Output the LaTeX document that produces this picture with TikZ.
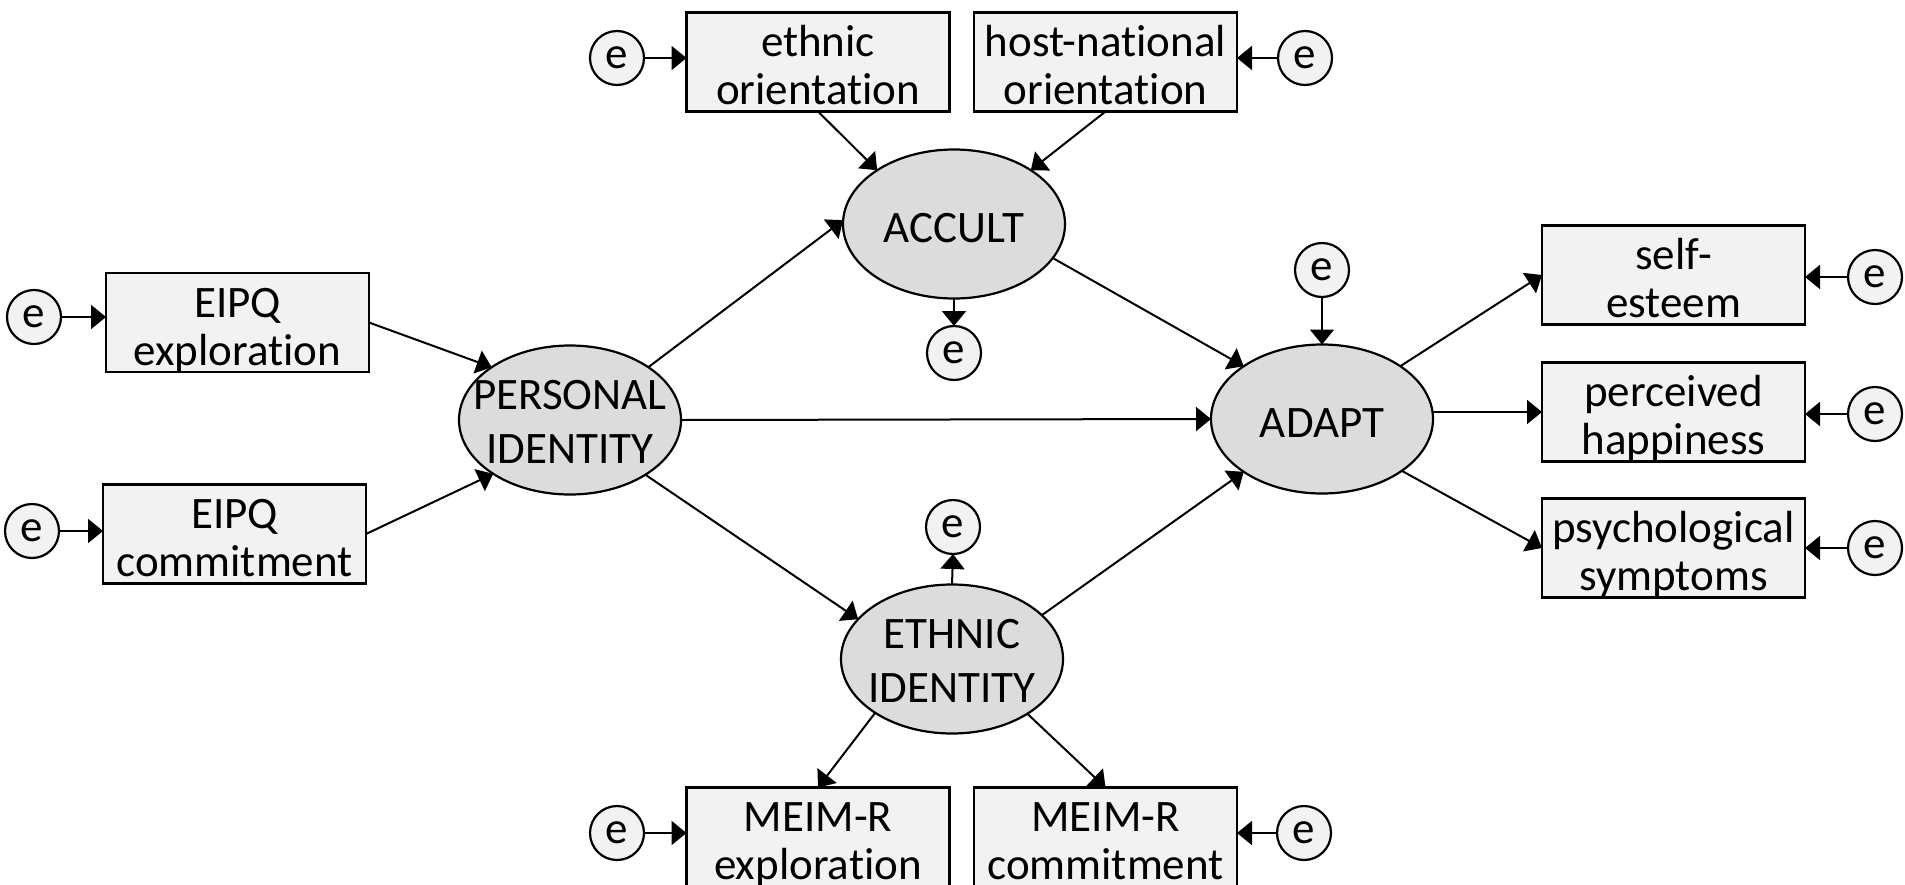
\documentclass[tikz,border=0pt]{standalone}
\usepackage{fontspec}
\setmainfont{Carlito}[Ligatures=NoCommon]
\usetikzlibrary{shapes.geometric,arrows.meta}
\definecolor{boxfill}{HTML}{F2F2F2}
\definecolor{latfill}{HTML}{DCDCDC}
\newcommand\Ln[2]{\raisebox{0pt}[#1][0pt]{#2}}
\begin{document}
\begin{tikzpicture}[x=0.5pt,y=-0.5pt,
  every node/.style={font=\fontsize{22.5pt}{24pt}\selectfont, inner sep=0pt, outer sep=0pt},
  obs/.style={draw, line width=1.1pt, fill=boxfill, minimum width=131.5pt, minimum height=49.5pt, align=center},
  lat/.style={draw, line width=1.1pt, fill=latfill, ellipse, minimum width=111pt, minimum height=74.5pt},
  lbl/.style={align=center, font=\fontsize{22.5pt}{27pt}\selectfont},
  err/.style={draw, line width=1.1pt, fill=boxfill, circle, minimum size=27pt},
  arr/.style={line width=1pt, -{Triangle[length=7.5pt,width=12pt]}}]
\useasboundingbox (0,0) rectangle (1905,884);
\fill[white] (0,0) rectangle (1905,884);

% observed boxes
\node[obs] (eipqe) at (237.5,322.5) {\Ln{18.5pt}{EIPQ}\\\Ln{0pt}{exploration}};
\node[obs] (eipqc) at (234.5,534) {\Ln{18.5pt}{EIPQ}\\\Ln{0pt}{commitment}};
\node[obs] (ethor) at (818,62) {\Ln{18.5pt}{ethnic}\\\Ln{0pt}{orientation}};
\node[obs] (hostor) at (1105.5,62) {\Ln{18.5pt}{host-national}\\\Ln{0pt}{orientation}};
\node[obs] (self) at (1673.5,275) {\Ln{18.5pt}{self-}\\\Ln{0pt}{esteem}};
\node[obs] (happy) at (1673.5,412) {\Ln{18.5pt}{perceived}\\\Ln{0pt}{happiness}};
\node[obs] (psych) at (1673.5,548) {\Ln{18.5pt}{psychological}\\\Ln{0pt}{symptoms}};
\node[obs] (meimx) at (818,837) {\Ln{18.5pt}{MEIM-R}\\\Ln{0pt}{exploration}};
\node[obs] (meimc) at (1105.5,837) {\Ln{18.5pt}{MEIM-R}\\\Ln{0pt}{commitment}};

% latent ellipses
\node[lat] (pi) at (570,420) {};
\node[lbl] (pit) at (pi) {\Ln{16pt}{PERSONAL}\\\Ln{0pt}{IDENTITY}};
\node[lat] (accult) at (954,224) {};
\node[lbl] (accultt) at (accult) {\Ln{18pt}{ACCULT}};
\node[lat] (adapt) at (1322,419) {};
\node[lbl] (adaptt) at (adapt) {\Ln{18pt}{ADAPT}};
\node[lat] (ethnic) at (952,659) {};
\node[lbl] (ethnict) at (ethnic) {\Ln{16pt}{ETHNIC}\\\Ln{0pt}{IDENTITY}};

% error terms
\node[err] (e1) at (34,317) {e};
\node[err] (e2) at (32,531) {e};
\node[err] (e3) at (617,58) {e};
\node[err] (e4) at (1305,58) {e};
\node[err] (e5) at (954,353) {e};
\node[err] (e6) at (1322,270) {e};
\node[err] (e7) at (1875,277) {e};
\node[err] (e8) at (1875,414) {e};
\node[err] (e9) at (1875,548) {e};
\node[err] (e10) at (953,527) {e};
\node[err] (e11) at (617,833) {e};
\node[err] (e12) at (1304,833) {e};

% error arrows
\draw[arr] (e1.east) -- (e1.east -| eipqe.west);
\draw[arr] (e2.east) -- (e2.east -| eipqc.west);
\draw[arr] (e3.east) -- (e3.east -| ethor.west);
\draw[arr] (e4.west) -- (e4.west -| hostor.east);
\draw[arr] (accult.south) -- (e5.north);
\draw[arr] (e6.south) -- (adapt.north);
\draw[arr] (e7.west) -- (e7.west -| self.east);
\draw[arr] (e8.west) -- (e8.west -| happy.east);
\draw[arr] (e9.west) -- (e9.west -| psych.east);
\draw[arr] (ethnic.north) -- (e10.south);
\draw[arr] (e11.east) -- (e11.east -| meimx.west);
\draw[arr] (e12.west) -- (e12.west -| meimc.east);

% structural arrows
\draw[arr] (eipqe.east) -- (pi.146);
\draw[arr] (eipqc.east) -- (pi.215);
\draw[arr] (ethor.south) -- (accult.145);
\draw[arr] (hostor.south) -- (accult.35);
\draw[arr] (pi.34) -- (accult.178);
\draw[arr] (accult.-19) -- (adapt.146);
\draw[arr] (pi.east) -- (adapt.west);
\draw[arr] (pi.-36) -- (ethnic.157);
\draw[arr] (ethnic.26) -- (adapt.214);
\draw[arr] (ethnic.215) -- (meimx.north);
\draw[arr] (ethnic.-36) -- (meimc.north);
\draw[arr] (adapt.34) -- (self.west);
\draw[arr] (adapt.east |- happy.west) -- (happy.west);
\draw[arr] (adapt.-33) -- (psych.west);
\end{tikzpicture}
\end{document}
